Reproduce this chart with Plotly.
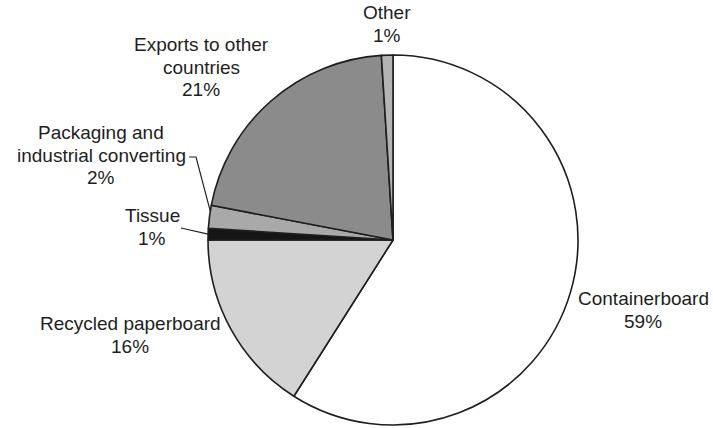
import math
import plotly.graph_objects as go

# ---- data ----
categories = ["Containerboard", "Recycled paperboard", "Tissue",
              "Packaging and<br>industrial converting", "Exports to other<br>countries", "Other"]
values = [59, 16, 1, 2, 21, 1]
colors = ["#ffffff", "#d3d3d3", "#151515", "#a9a9a9", "#8b8b8b", "#b4b4b4"]

# label block centres (pixels in the 713x428 page)
label_pos = [(643, 310), (130, 335), (152, 227), (101, 155), (201, 67), (387, 24)]

W, H = 713, 428
cx, cy, r = 393, 240, 185
LINE = 22.5

fig = go.Figure(go.Pie(
    labels=[c.replace("<br>", " ") for c in categories], values=values, sort=False,
    direction="clockwise", rotation=0,
    marker=dict(colors=colors, line=dict(color="#1e1e1e", width=1.6)),
    textinfo="none", hoverinfo="label+percent", showlegend=False,
    domain=dict(x=[(cx - r) / W, (cx + r) / W], y=[(H - cy - r) / H, (H - cy + r) / H]),
))

total = sum(values)
annotations = []
for lab, v, (px, py) in zip(categories, values, label_pos):
    lines = lab.split("<br>") + [f"{round(100 * v / total)}%"]
    n = len(lines)
    for i, t in enumerate(lines):
        ly = py + (i - (n - 1) / 2) * LINE
        annotations.append(dict(
            x=px / W, y=1 - ly / H, xref="paper", yref="paper", showarrow=False,
            text=t, align="center", xanchor="center", yanchor="middle",
            font=dict(family="Liberation Sans, Arial, sans-serif", size=19, color="#1e1e1e"),
        ))

# leader lines end near the slice on the pie edge
def edge_point(idx, frac=0.5):
    start = sum(values[:idx])
    ang = (start + values[idx] * frac) / total * 2 * math.pi
    px = cx + r * math.sin(ang)
    py = cy - r * math.cos(ang)
    return px / W, 1 - py / H

shapes = []
ex, ey = edge_point(3, 0.75)
shapes.append(dict(type="path", xref="paper", yref="paper",
                   path=f"M {189/W} {1-157/H} L {196/W} {1-157/H} L {ex} {ey}",
                   line=dict(color="#222222", width=1.2)))
ex, ey = edge_point(2)
shapes.append(dict(type="line", xref="paper", yref="paper",
                   x0=181 / W, y0=1 - 228 / H, x1=ex, y1=ey,
                   line=dict(color="#222222", width=1.2)))

fig.update_layout(
    width=W, height=H, margin=dict(l=0, r=0, t=0, b=0),
    paper_bgcolor="white", plot_bgcolor="white",
    annotations=annotations, shapes=shapes,
)
fig.write_html("out.html", config={"displayModeBar": False},
               post_script="document.body.style.margin='0';document.body.style.overflow='hidden';")
